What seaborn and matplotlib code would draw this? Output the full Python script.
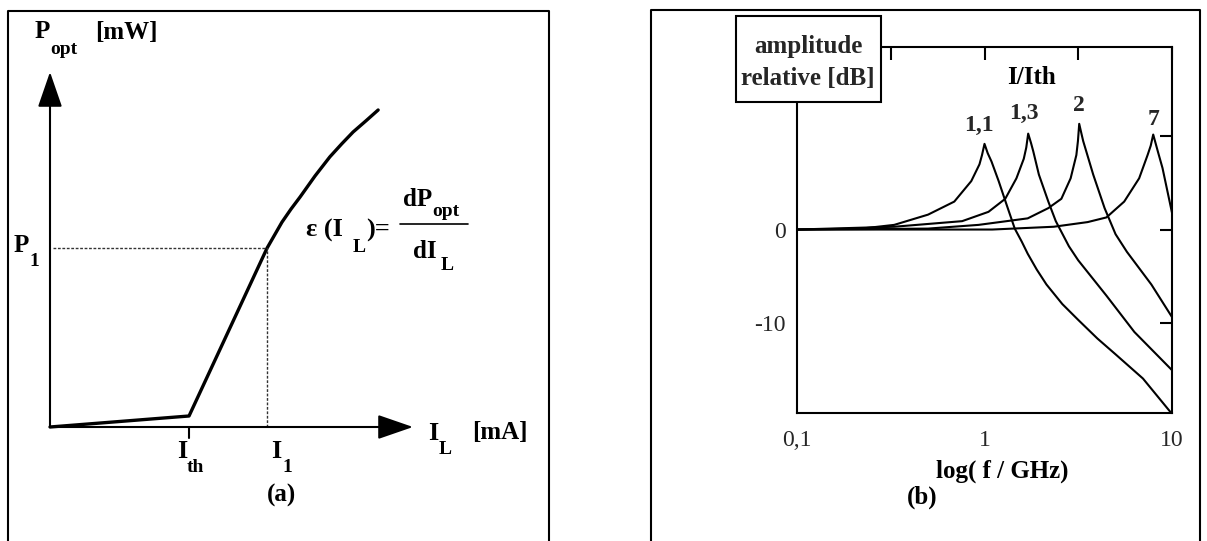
import numpy as np
import pandas as pd
import matplotlib
matplotlib.use("Agg")
import matplotlib.pyplot as plt
import seaborn as sns
from matplotlib.transforms import Affine2D
from matplotlib.lines import Line2D
from matplotlib.patches import Rectangle

# ---- panel (a): laser P-I characteristic (arbitrary units) ----
current_I = [0.0, 3.83, 5.98, 6.39, 6.64, 6.89, 7.30, 7.71, 8.04, 8.35, 8.71, 9.04]
power_P = [0.0, 0.31, 5.04, 5.77, 6.14, 6.48, 7.07, 7.61, 7.98, 8.31, 8.63, 8.93]
I_th = 3.83
I_1 = 5.98
P_1 = 5.04

# ---- panel (b): relative modulation response vs frequency ----
ratio_labels = ["1,1", "1,3", "2", "7"]
f_11 = [0.1, 0.22, 0.33, 0.5, 0.69, 0.85, 0.94, 0.97, 1.0, 1.04, 1.09, 1.19, 1.31, 1.45,
        1.58, 1.7, 1.9, 2.14, 2.6, 3.16, 4.0, 5.0, 7.0, 10.0]
db_11 = [0.0, 0.1, 0.5, 1.6, 3.0, 5.2, 7.0, 8.0, 9.2, 8.2, 7.3, 5.2, 2.7, 0.1,
         -1.3, -2.6, -4.3, -5.9, -8.0, -9.7, -11.7, -13.4, -16.0, -19.8]
f_13 = [0.1, 0.33, 0.76, 1.05, 1.29, 1.48, 1.62, 1.67, 1.71, 1.77, 1.82, 1.95, 2.19, 2.40,
        2.82, 3.16, 4.47, 6.3, 10.0]
db_13 = [0.0, 0.3, 0.9, 1.9, 3.3, 5.5, 7.6, 8.8, 10.3, 9.3, 8.4, 5.9, 3.0, 0.9,
         -1.8, -3.3, -7.1, -11.0, -15.1]
f_2 = [0.1, 0.5, 0.93, 1.7, 2.19, 2.57, 2.88, 3.09, 3.15, 3.2, 3.28, 3.36, 3.8, 4.37,
       5.0, 5.75, 7.76, 10.0]
db_2 = [0.0, 0.1, 0.5, 1.2, 2.3, 3.3, 5.5, 8.0, 9.5, 11.35, 10.4, 9.5, 5.9, 2.3,
        -0.5, -2.4, -5.9, -9.4]
f_7 = [0.1, 1.1, 2.34, 3.55, 4.47, 5.56, 6.68, 7.41, 7.7, 7.94, 8.4, 8.9, 10.0]
db_7 = [0.0, 0.0, 0.3, 0.8, 1.3, 3.0, 5.5, 8.0, 9.0, 10.2, 8.4, 6.6, 1.8]

x_ticks = [0.1, 10 ** -0.5, 1.0, 10 ** 0.5, 10.0]
x_ticklabels = ["0,1", "", "1", "", "10"]
y_ticks = [-10, 0, 10]
y_ticklabels = ["-10", "0", ""]

sns.set_style("white")
plt.rcParams["font.family"] = ["Liberation Serif", "DejaVu Serif"]

W, H = 1207, 541
fig = plt.figure(figsize=(W / 100, H / 100), dpi=100)
fig.patch.set_facecolor("white")
# pixel coordinates measured from the top-left corner
pix = Affine2D().scale(1 / W, -1 / H).translate(0, 1) + fig.transFigure

BIG, SUB, EYE = 18, 14, 19


def ptext(x, y, s, size=BIG, weight="bold", ha="center", va="center", **kw):
    fig.text(x, y, s, transform=pix, fontsize=size, fontweight=weight,
             ha=ha, va=va, color="black", **kw)


# outer frames (open at the bottom)
for x0, x1, ytop in [(8, 549, 11), (651, 1200, 10)]:
    fig.add_artist(Line2D([x0, x0, x1, x1], [H + 5, ytop, ytop, H + 5],
                          transform=pix, color="black", lw=1.5))

# ================= panel (a) =================
axa = fig.add_axes([50 / W, 1 - 427 / H, 363 / W, 355 / H])
axa.set_xlim(0, 10)
axa.set_ylim(0, 10)
axa.axis("off")

df_a = pd.DataFrame({"I": current_I, "P": power_P})
sns.lineplot(data=df_a, x="I", y="P", sort=False, estimator=None,
             color="black", lw=2.4, ax=axa, clip_on=False)

arrow_kw = dict(arrowstyle="-|>,head_length=1.1,head_width=0.38",
                color="black", lw=1.5, mutation_scale=20,
                shrinkA=0, shrinkB=0)
axa.annotate("", xy=(0, 10), xytext=(0, 0), arrowprops=arrow_kw,
             annotation_clip=False)
axa.annotate("", xy=(10, 0), xytext=(0, 0), arrowprops=arrow_kw,
             annotation_clip=False)

# operating point guides
axa.plot([0.08, I_1], [P_1, P_1], color="#333333", lw=1.0,
         ls=(0, (2, 1.2)), clip_on=False)
axa.plot([I_1, I_1], [0, P_1], color="#333333", lw=1.0,
         ls=(0, (2, 1.2)), clip_on=False)
# threshold tick below the axis
axa.plot([I_th, I_th], [0, -0.32], color="black", lw=1.5, clip_on=False)

ptext(42, 32, "P")
ptext(50, 49, "opt", SUB, ha="left")
ptext(126, 32, "[mW]")
ptext(21, 246, "P")
ptext(29, 261, "1", SUB, ha="left")
ptext(182, 452, "I", EYE)
ptext(187, 468, "th", SUB, ha="left")
ptext(276, 452, "I", EYE)
ptext(282, 468, "1", SUB, ha="left")
ptext(281, 495, "(a)")
ptext(433, 434, "I", EYE)
ptext(439, 450, "L", SUB, ha="left")
ptext(500, 432, "[mA]")

# slope efficiency formula
ptext(306, 230, "ε (I", EYE, ha="left")
ptext(353, 247, "L", SUB, ha="left")
ptext(366, 230, ")=", EYE, ha="left")
fig.add_artist(Line2D([400, 468], [224, 224], transform=pix,
                      color="black", lw=1.2))
ptext(403, 199, "dP", BIG, ha="left")
ptext(432, 212, "opt", SUB, ha="left")
ptext(413, 252, "dI", BIG, ha="left")
ptext(441, 266, "L", SUB, ha="left")

# ================= panel (b) =================
axb = fig.add_axes([797 / W, 1 - 413 / H, 375 / W, 366 / H])
rows = []
for lab, fs, dbs in zip(ratio_labels, [f_11, f_13, f_2, f_7],
                        [db_11, db_13, db_2, db_7]):
    for f, d in zip(fs, dbs):
        rows.append({"f": f, "db": d, "ratio": lab})
df_b = pd.DataFrame(rows)

sns.lineplot(data=df_b, x="f", y="db", units="ratio", estimator=None,
             sort=False, color="black", lw=1.5, ax=axb)
axb.set_xscale("log")
axb.set_xlim(0.1, 10)
axb.set_ylim(-19.7, 19.6)
axb.set_xlabel("")
axb.set_ylabel("")
axb.set_xticks(x_ticks)
axb.set_xticklabels(x_ticklabels)
axb.xaxis.set_minor_locator(matplotlib.ticker.NullLocator())
axb.set_yticks(y_ticks)
axb.set_yticklabels(y_ticklabels)
for sp in axb.spines.values():
    sp.set_linewidth(1.5)
    sp.set_color("black")
axb.tick_params(axis="both", which="major", direction="in", length=9,
                width=1.5, color="black", labelsize=17, top=True, right=True)
axb.tick_params(axis="x", pad=12)
axb.tick_params(axis="y", pad=8)

offsets = {"1,1": (-6, 18), "1,3": (-4, 20), "2": (0, 18), "7": (0, 15)}
for lab, fs, dbs in zip(ratio_labels, [f_11, f_13, f_2, f_7],
                        [db_11, db_13, db_2, db_7]):
    k = int(np.argmax(dbs))
    axb.annotate(lab, xy=(fs[k], dbs[k]), xytext=offsets[lab],
                 textcoords="offset pixels", ha="center", va="center",
                 fontsize=17, fontweight="bold")

ptext(1032, 78, "I/Ith")
ptext(1002, 471, "log( f / GHz)")
ptext(922, 497, "(b)")

# y-axis caption box
fig.add_artist(Rectangle((736, 16), 145, 86, transform=pix, facecolor="white",
                         edgecolor="black", lw=1.5, zorder=10))
fig.text(808, 46, "amplitude", transform=pix, fontsize=BIG, fontweight="bold",
         ha="center", va="center", zorder=11)
fig.text(808, 78, "relative [dB]", transform=pix, fontsize=BIG,
         fontweight="bold", ha="center", va="center", zorder=11)

fig.savefig("out.png", dpi=100, facecolor="white")
